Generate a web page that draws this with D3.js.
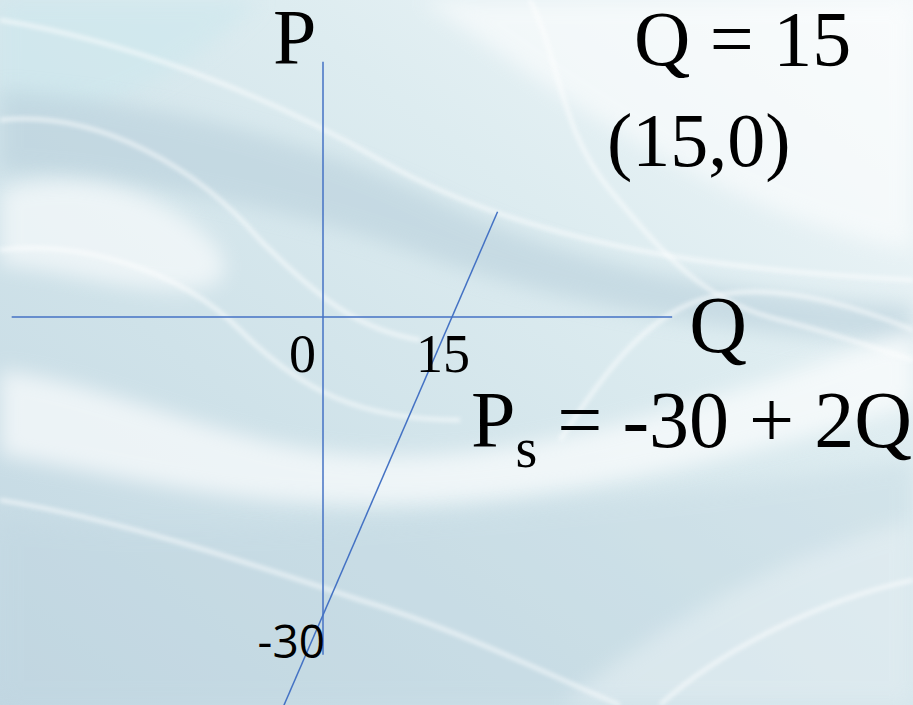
<!DOCTYPE html>
<html>
<head>
<meta charset="utf-8">
<script src="https://cdn.jsdelivr.net/npm/d3@7.9.0/dist/d3.min.js"></script>
<style>
  html, body { margin: 0; padding: 0; overflow: hidden; }
  svg { display: block; }
</style>
</head>
<body>
<div id="chart"></div>
<script>
// Supply curve P = -30 + 2Q, drawn on P/Q axes

const supplyIntercept = -30;
const supplySlope = 2;
const supplyQ = [-5, 20.3];          // Q values at the drawn ends of the supply line
const qAxisExtent = [-36.2, 40.6];   // horizontal axis runs over these Q values
const pAxisExtent = [-34, 25.7];     // vertical axis runs over these P values
const qTicks = [0, 15];
const pTicks = [-30];
const equilibrium = [15, 0];

const width = 913;
const height = 705;

const serif = 'Liberation Serif';
const sans = 'Open Sans';
const lineColor = '#4472c4';

const svg = d3.select('#chart')
    .append('svg')
    .attr('width', width)
    .attr('height', height)
    .attr('viewBox', [0, 0, width, height]);

// scales: Q=0 at x 323, Q=15 at x 452; P=0 at y 317, P=-30 at y 615
const xScale = d3.scaleLinear().domain([0, 15]).range([323, 452]);
const yScale = d3.scaleLinear().domain([0, -30]).range([317, 615]);

// --- background, a soft blue-grey slide wash with white swirls
const defs = svg.append('defs');

const bg = defs.append('linearGradient')
    .attr('id', 'bg')
    .attr('x1', '100%').attr('y1', '0%')
    .attr('x2', '0%').attr('y2', '100%');
bg.append('stop').attr('offset', '0%').attr('stop-color', '#f3f8fa');
bg.append('stop').attr('offset', '35%').attr('stop-color', '#ddecf0');
bg.append('stop').attr('offset', '65%').attr('stop-color', '#cfe2e9');
bg.append('stop').attr('offset', '100%').attr('stop-color', '#c2d7e2');

const blur = defs.append('filter').attr('id', 'soft')
    .attr('x', '-20%').attr('y', '-20%').attr('width', '140%').attr('height', '140%');
blur.append('feGaussianBlur').attr('stdDeviation', 10);

const blurSmall = defs.append('filter').attr('id', 'softer')
    .attr('x', '-20%').attr('y', '-20%').attr('width', '140%').attr('height', '140%');
blurSmall.append('feGaussianBlur').attr('stdDeviation', 2);

svg.append('rect')
    .attr('width', width)
    .attr('height', height)
    .attr('fill', 'url(#bg)');

const swirls = svg.append('g').attr('class', 'swirls');

// cyan tint top left
swirls.append('path')
    .attr('d', 'M0,0 L260,0 C220,40 160,90 80,110 L0,110 Z')
    .attr('fill', '#cfe8ee')
    .attr('opacity', 0.7)
    .attr('filter', 'url(#soft)');

// darker band across the upper left
swirls.append('path')
    .attr('d', 'M0,90 C150,100 320,140 450,205 C600,275 760,295 913,305 L913,345 C760,335 600,315 440,262 C300,210 150,180 0,170 Z')
    .attr('fill', '#b9d0dc')
    .attr('opacity', 0.6)
    .attr('filter', 'url(#soft)');

// white tongue on the left
swirls.append('path')
    .attr('d', 'M0,190 C60,170 140,180 200,230 C240,265 230,290 180,290 C120,290 60,270 0,265 Z')
    .attr('fill', '#ffffff')
    .attr('opacity', 0.6)
    .attr('filter', 'url(#soft)');

// broad white sweep from the left middle up to the right
swirls.append('path')
    .attr('d', 'M0,370 C120,385 220,445 360,455 C520,465 700,405 913,330 L913,405 C720,465 540,505 380,505 C220,505 120,475 0,455 Z')
    .attr('fill', '#ffffff')
    .attr('opacity', 0.65)
    .attr('filter', 'url(#soft)');

// white area top right
swirls.append('path')
    .attr('d', 'M420,0 L913,0 L913,250 C800,230 700,180 600,120 C520,70 470,30 420,0 Z')
    .attr('fill', '#ffffff')
    .attr('opacity', 0.55)
    .attr('filter', 'url(#soft)');

// darker wash lower left
swirls.append('path')
    .attr('d', 'M0,520 C200,540 400,520 600,500 C750,485 850,470 913,460 L913,705 L0,705 Z')
    .attr('fill', '#bfd5e0')
    .attr('opacity', 0.35)
    .attr('filter', 'url(#soft)');

// lighter wash at the bottom right
swirls.append('path')
    .attr('d', 'M560,705 C640,640 760,560 913,520 L913,705 Z')
    .attr('fill', '#ffffff')
    .attr('opacity', 0.3)
    .attr('filter', 'url(#soft)');

// thin white streaks
const streaks = [
    'M0,20 C120,40 260,90 380,160 C520,240 700,270 913,280',
    'M0,120 C100,110 200,170 260,240 C320,300 360,330 420,340',
    'M0,250 C80,240 180,270 240,330 C300,390 360,420 460,420',
    'M530,0 C560,60 560,130 610,190 C660,250 700,300 780,320 C840,335 880,350 913,360',
    'M560,440 C600,380 640,320 700,300 C760,280 840,300 913,330',
    'M0,500 C120,520 240,560 360,600 C460,630 560,680 620,705',
    'M660,705 C720,650 820,600 913,580'
];
swirls.selectAll('path.streak')
    .data(streaks)
    .join('path')
    .attr('class', 'streak')
    .attr('d', (d) => d)
    .attr('fill', 'none')
    .attr('stroke', '#ffffff')
    .attr('stroke-width', 4)
    .attr('opacity', 0.6)
    .attr('filter', 'url(#softer)');

// --- axes
const axes = svg.append('g').attr('class', 'axes')
    .attr('stroke', lineColor)
    .attr('stroke-width', 1.5);

axes.append('line')
    .attr('x1', xScale(qAxisExtent[0]))
    .attr('x2', xScale(qAxisExtent[1]))
    .attr('y1', yScale(0))
    .attr('y2', yScale(0));

axes.append('line')
    .attr('x1', xScale(0))
    .attr('x2', xScale(0))
    .attr('y1', yScale(pAxisExtent[1]))
    .attr('y2', yScale(pAxisExtent[0]));

// --- supply line
const supply = supplyQ.map((q) => [q, supplyIntercept + supplySlope * q]);
svg.append('path')
    .datum(supply)
    .attr('fill', 'none')
    .attr('stroke', lineColor)
    .attr('stroke-width', 1.5)
    .attr('d', d3.line().x((d) => xScale(d[0])).y((d) => yScale(d[1])));

// --- tick labels
svg.selectAll('text.qtick')
    .data(qTicks)
    .join('text')
    .attr('class', 'qtick')
    .attr('x', (d) => d === 0 ? xScale(d) - 7 : xScale(d) - 9)
    .attr('y', yScale(0) + 55)
    .attr('text-anchor', (d) => d === 0 ? 'end' : 'middle')
    .attr('font-family', serif)
    .attr('font-size', 54)
    .attr('fill', '#000')
    .text((d) => d);

svg.selectAll('text.ptick')
    .data(pTicks)
    .join('text')
    .attr('class', 'ptick')
    .attr('x', xScale(0) + 2)
    .attr('y', yScale(pTicks[0]) + 43)
    .attr('text-anchor', 'end')
    .attr('font-family', sans)
    .attr('font-size', 46)
    .attr('fill', '#000')
    .text((d) => d);

// --- axis titles and annotations
const labels = svg.append('g')
    .attr('font-family', serif)
    .attr('fill', '#000');

labels.append('text')
    .attr('x', xScale(0) - 50)
    .attr('y', 63)
    .attr('font-size', 78)
    .text('P');

labels.append('text')
    .attr('x', xScale(qAxisExtent[1]) + 17)
    .attr('y', yScale(0) + 35)
    .attr('font-size', 80)
    .text('Q');

labels.append('text')
    .attr('x', 634)
    .attr('y', 65)
    .attr('font-size', 78)
    .text(`Q = ${equilibrium[0]}`);

labels.append('text')
    .attr('x', 607)
    .attr('y', 166)
    .attr('font-size', 76)
    .text(`(${equilibrium[0]},${equilibrium[1]})`);

const eq = labels.append('text')
    .attr('x', 471)
    .attr('y', 447)
    .attr('font-size', 80);
eq.append('tspan').text('P');
eq.append('tspan').attr('dy', 20).attr('font-size', 56).text('s');
eq.append('tspan').attr('dy', -20).text(` = ${supplyIntercept} + ${supplySlope}Q`);
</script>
</body>
</html>
